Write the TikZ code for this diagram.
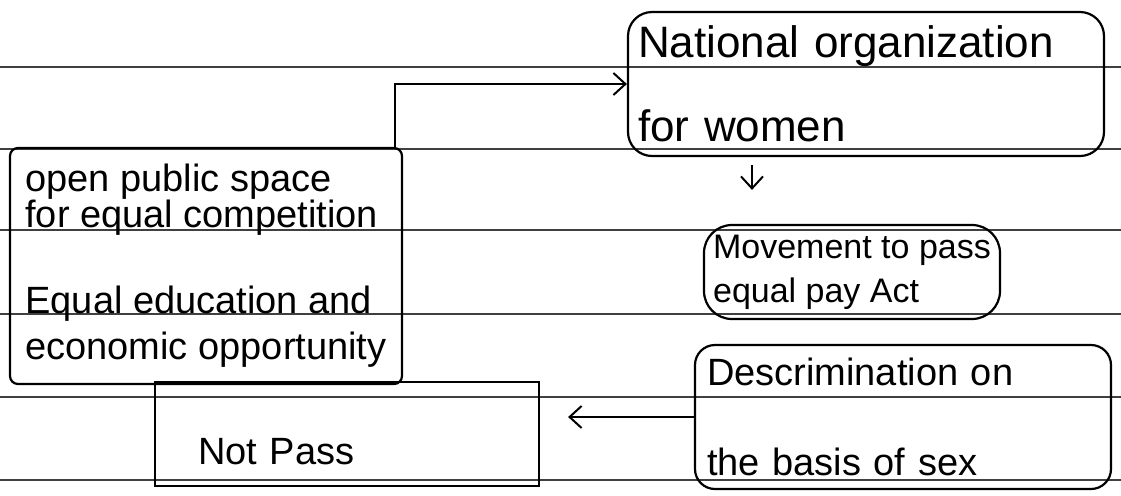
\documentclass[tikz,border=0pt]{standalone}
\usepackage{fontspec}
\setmainfont{Liberation Sans}
\usetikzlibrary{arrows.meta,positioning,calc}

\begin{document}
\begin{tikzpicture}[x=0.5pt,y=-0.5pt,
    box/.style={draw,line width=1.1pt,align=left,inner sep=4pt,font=\fontsize{19}{23}\selectfont},
    arr/.style={-{Straight Barb[length=6pt,width=11pt]},line width=1pt},
    rule/.style={line width=0.7pt,black!75}]
    \useasboundingbox (0,0) rectangle (1121,495);
    % ruled paper
    \foreach \yy in {67,149,230,314,397,480}
        \draw[rule] (0,\yy) -- (1121,\yy);

    % boxes
    \node[box,rounded corners=12pt,minimum width=238pt,minimum height=72pt,text width=228pt,
        font=\fontsize{22}{23}\selectfont] (nat) at (866,84)
        {National organization\\[19pt]for women};
    \node[box,rounded corners=4pt,minimum width=196pt,minimum height=118pt] (open) at (206,266)
        {open public space\\[-5pt]for equal competition\\[20pt]Equal education and\\economic opportunity};
    \node[box,rounded corners=14pt,minimum width=148pt,minimum height=47pt,
        font=\fontsize{17}{22}\selectfont] (move) at (852,272)
        {Movement to pass\\equal pay Act};
    \node[box,rounded corners=10pt,minimum width=208pt,minimum height=72pt,text width=196pt] (disc) at (903,417)
        {Descrimination on\\[22pt]the basis of sex};
    \node[box,minimum width=192pt,minimum height=52pt,text width=165pt,
        text height=30pt,text depth=0pt] (notpass) at (347,434)
        {\hspace*{8pt}Not Pass};

    % connectors
    \draw[arr] ($(open.north east)+(-8,0)$) |- (nat.west);
    \draw[arr,shorten <=4pt,shorten >=17pt] ($(nat.south)+(-114,0)$) -- ($(move.north)+(-100,0)$);
    \draw[arr,shorten >=14pt] (disc.west) -- (disc.west -| notpass.east);
\end{tikzpicture}
\end{document}
